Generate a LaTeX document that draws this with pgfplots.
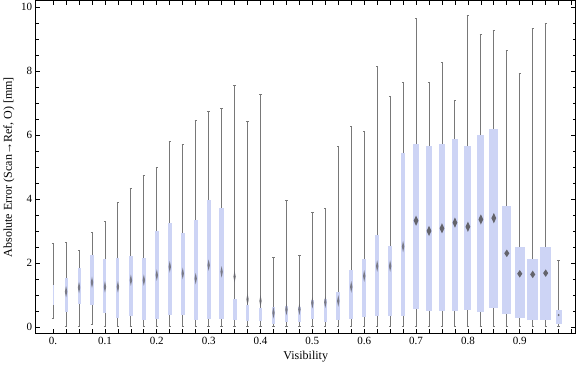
\documentclass[border=0pt]{standalone}
\usepackage{fontspec}
\setmainfont{Liberation Serif}
\usepackage{pgfplots}
\pgfplotsset{compat=1.18}
\usepgfplotslibrary{statistics}
\definecolor{boxcol}{RGB}{205,212,245}
\definecolor{whisk}{RGB}{120,120,120}
\definecolor{medcol}{RGB}{100,100,108}
% pos, lower whisker, lower quartile, median, upper quartile, upper whisker, box width (axis units)
\newcommand{\bx}[7]{\addplot[boxplot prepared={draw position=#1, lower whisker=#2, lower quartile=#3, median=#4, upper quartile=#5, upper whisker=#6, box extend=#7, whisker extend=0.0045}] coordinates {};}
\begin{document}
\begin{tikzpicture}
\begin{axis}[
  scale only axis,
  width=539pt, height=332.4pt,
  xmin=-0.0334, xmax=1.0078,
  ymin=-0.21, ymax=10.2,
  axis line style={line width=0.7pt},
  tick style={line width=0.7pt, black},
  major tick length=4.5pt, minor tick length=3pt,
  xtick={0,0.025,...,1.0},
  xticklabels={0.,{},{},{},0.1,{},{},{},0.2,{},{},{},0.3,{},{},{},0.4,{},{},{},0.5,{},{},{},0.6,{},{},{},0.7,{},{},{},0.8,{},{},{},0.9,{},{},{},{}},
  ytick={0,2,...,10},
  minor y tick num=3,
  /pgf/number format/assume math mode=true,
  ticklabel style={font=\fontsize{11}{13}\selectfont},
  label style={font=\fontsize{12}{14}\selectfont},
  xlabel={Visibility},
  ylabel={Absolute Error (Scan→Ref, O) [mm]},
  boxplot/draw direction=y,
  boxplot/every box/.style={fill=boxcol, draw=none},
  boxplot/every whisker/.style={draw=whisk, line width=0.9pt},
  boxplot/every median/.style={draw=none},
]
\bx{0.000}{0.26}{0.68}{1.00}{1.31}{2.61}{0.0023}
\bx{0.025}{0.00}{0.47}{1.10}{1.53}{2.65}{0.0058}
\bx{0.050}{0.00}{0.70}{1.23}{1.85}{2.38}{0.0058}
\bx{0.075}{0.09}{0.67}{1.39}{2.24}{2.94}{0.0064}
\bx{0.100}{0.00}{0.42}{1.25}{2.13}{3.31}{0.0058}
\bx{0.125}{0.00}{0.28}{1.25}{2.16}{3.90}{0.0058}
\bx{0.150}{0.02}{0.34}{1.46}{2.21}{4.32}{0.0077}
\bx{0.175}{0.00}{0.23}{1.46}{2.16}{4.72}{0.0077}
\bx{0.200}{0.00}{0.26}{1.62}{3.01}{5.00}{0.0077}
\bx{0.225}{0.00}{0.36}{1.88}{3.26}{5.79}{0.0077}
\bx{0.250}{0.00}{0.37}{1.67}{2.94}{5.69}{0.0077}
\bx{0.275}{0.00}{0.23}{1.51}{3.35}{6.44}{0.0077}
\bx{0.300}{0.00}{0.26}{1.93}{3.98}{6.72}{0.0077}
\bx{0.325}{0.00}{0.26}{1.72}{3.73}{6.82}{0.0083}
\bx{0.350}{0.00}{0.23}{0.60}{0.88}{7.54}{0.0077}
\bx{0.375}{0.00}{0.19}{0.50}{0.69}{6.41}{0.0071}
\bx{0.400}{0.00}{0.19}{0.50}{0.60}{7.26}{0.0064}
\bx{0.425}{0.00}{0.10}{0.44}{0.63}{2.18}{0.0064}
\bx{0.450}{0.00}{0.16}{0.54}{0.66}{3.95}{0.0064}
\bx{0.475}{0.00}{0.16}{0.55}{0.63}{2.24}{0.0064}
\bx{0.500}{0.00}{0.26}{0.75}{0.83}{3.57}{0.0058}
\bx{0.525}{0.00}{0.14}{0.77}{0.87}{3.70}{0.0064}
\bx{0.550}{0.00}{0.20}{0.81}{1.10}{5.63}{0.0077}
\bx{0.575}{0.00}{0.26}{1.25}{1.77}{6.28}{0.0077}
\bx{0.600}{0.00}{0.31}{1.59}{2.13}{6.10}{0.0077}
\bx{0.625}{0.00}{0.35}{1.90}{2.88}{8.13}{0.0077}
\bx{0.650}{0.00}{0.35}{1.90}{2.54}{7.19}{0.0077}
\bx{0.675}{0.00}{0.35}{2.51}{5.45}{7.63}{0.0083}
\bx{0.700}{0.00}{0.57}{3.32}{5.73}{9.64}{0.0122}
\bx{0.725}{0.00}{0.51}{3.00}{5.64}{7.63}{0.0110}
\bx{0.750}{0.00}{0.51}{3.08}{5.73}{8.26}{0.0102}
\bx{0.775}{0.00}{0.51}{3.26}{5.86}{7.09}{0.0122}
\bx{0.800}{0.00}{0.52}{3.13}{5.67}{9.73}{0.0135}
\bx{0.825}{0.00}{0.48}{3.36}{6.01}{9.14}{0.0135}
\bx{0.850}{0.00}{0.60}{3.40}{6.20}{9.26}{0.0174}
\bx{0.875}{0.00}{0.40}{2.30}{3.79}{8.63}{0.0174}
\bx{0.900}{0.00}{0.29}{1.66}{2.51}{7.93}{0.0193}
\bx{0.925}{0.00}{0.23}{1.64}{2.13}{9.32}{0.0207}
\bx{0.950}{0.00}{0.21}{1.68}{2.51}{9.48}{0.0212}
\bx{0.975}{0.00}{0.10}{0.37}{0.53}{2.09}{0.0116}
% medians
\addplot[only marks, mark=diamond*, mark size=1.6pt, color=medcol, fill opacity=0.8, draw opacity=0,
  mark options={yscale=3.6}] coordinates {
(0.025,1.10)(0.05,1.23)(0.075,1.39)(0.1,1.25)(0.125,1.25)(0.15,1.46)(0.175,1.46)
(0.2,1.62)(0.225,1.88)(0.25,1.67)(0.275,1.51)(0.3,1.93)(0.325,1.72)(0.35,1.57)
(0.375,0.86)(0.4,0.81)(0.425,0.44)(0.45,0.54)(0.475,0.55)(0.5,0.75)(0.525,0.77)
(0.55,0.81)(0.575,1.25)(0.6,1.59)(0.625,1.90)(0.65,1.90)(0.675,2.51)};
\addplot[only marks, mark=diamond*, mark size=3.2pt, color=medcol, draw opacity=0,
  mark options={yscale=1.6}] coordinates {
(0.7,3.32)(0.725,3.00)(0.75,3.08)(0.775,3.26)(0.8,3.13)(0.825,3.36)(0.85,3.40)};
\addplot[only marks, mark=diamond*, mark size=3.4pt, color=medcol, draw opacity=0,
  mark options={yscale=1.1}] coordinates {
(0.875,2.30)(0.9,1.66)(0.925,1.64)(0.95,1.68)};
\addplot[only marks, mark=diamond*, mark size=1.2pt, color=medcol, draw opacity=0] coordinates {(0.975,0.37)};
\end{axis}
\end{tikzpicture}
\end{document}
